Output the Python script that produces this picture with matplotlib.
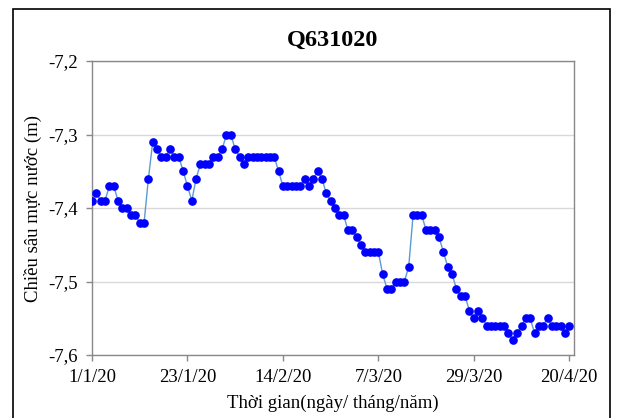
import matplotlib
matplotlib.use("Agg")
import matplotlib.pyplot as plt
from matplotlib.patches import Rectangle
from matplotlib.ticker import FuncFormatter, FixedLocator

# Data: day offsets from 1/1/2020 and water depth (m)
days = list(range(111))
depth = [
    -7.39, -7.38, -7.39, -7.39, -7.37, -7.37, -7.39, -7.40, -7.40, -7.41,
    -7.41, -7.42, -7.42, -7.36, -7.31, -7.32, -7.33, -7.33, -7.32, -7.33,
    -7.33, -7.35, -7.37, -7.39, -7.36, -7.34, -7.34, -7.34, -7.33, -7.33,
    -7.32, -7.30, -7.30, -7.32, -7.33, -7.34, -7.33, -7.33, -7.33, -7.33,
    -7.33, -7.33, -7.33, -7.35, -7.37, -7.37, -7.37, -7.37, -7.37, -7.36,
    -7.37, -7.36, -7.35, -7.36, -7.38, -7.39, -7.40, -7.41, -7.41, -7.43,
    -7.43, -7.44, -7.45, -7.46, -7.46, -7.46, -7.46, -7.49, -7.51, -7.51,
    -7.50, -7.50, -7.50, -7.48, -7.41, -7.41, -7.41, -7.43, -7.43, -7.43,
    -7.44, -7.46, -7.48, -7.49, -7.51, -7.52, -7.52, -7.54, -7.55, -7.54,
    -7.55, -7.56, -7.56, -7.56, -7.56, -7.56, -7.57, -7.58, -7.57, -7.56,
    -7.55, -7.55, -7.57, -7.56, -7.56, -7.55, -7.56, -7.56, -7.56, -7.57,
    -7.56,
]
xtick_pos = [0, 22, 44, 66, 88, 110]
xtick_labels = ["1/1/20", "23/1/20", "14/2/20", "7/3/20", "29/3/20", "20/4/20"]
yticks = [-7.6, -7.5, -7.4, -7.3, -7.2]

title = "Q631020"
xlabel = "Thời gian(ngày/ tháng/năm)"
ylabel = "Chiều sâu mực nước (m)"

plt.rcParams['font.family'] = ['Liberation Serif', 'DejaVu Serif']

W, H = 618, 418
fig = plt.figure(figsize=(W / 100, H / 100), dpi=100)
ax = fig.add_axes([92 / W, 1 - 355 / H, (574 - 92) / W, (355 - 61) / H])

ax.plot(days, depth, color="#5b9bd5", linewidth=1.0, zorder=2)
ax.plot(days, depth, linestyle="none", marker="o", markersize=5.2,
        markerfacecolor="#0000ff", markeredgecolor="#0000ff", zorder=3)

ax.set_xlim(0, 111.1)
ax.set_ylim(-7.6, -7.2)
ax.xaxis.set_major_locator(FixedLocator(xtick_pos))
ax.set_xticklabels(xtick_labels)
ax.yaxis.set_major_locator(FixedLocator(yticks))
ax.yaxis.set_major_formatter(FuncFormatter(lambda v, p: f"{v:.1f}".replace(".", ",")))

ax.grid(axis="y", color="#d9d9d9", linewidth=1.0)
ax.set_axisbelow(True)
for s in ax.spines.values():
    s.set_color("#898989")
    s.set_linewidth(1.0)
ax.tick_params(axis="both", direction="out", length=4, width=1.0, color="#898989",
               labelsize=13.5, pad=6, labelcolor="black")

ax.set_title(title, fontsize=17.5, fontweight="bold", pad=11)
ax.set_xlabel(xlabel, fontsize=13.5, labelpad=6)
ax.set_ylabel(ylabel, fontsize=13.5, labelpad=5)

border = Rectangle((12.5 / W, -0.05), (610 - 12.5) / W, 1 - 8.5 / H + 0.05,
                   transform=fig.transFigure, fill=False, edgecolor="black",
                   linewidth=1.2, clip_on=False)
fig.patches.append(border)

fig.savefig("out.png", dpi=100)
